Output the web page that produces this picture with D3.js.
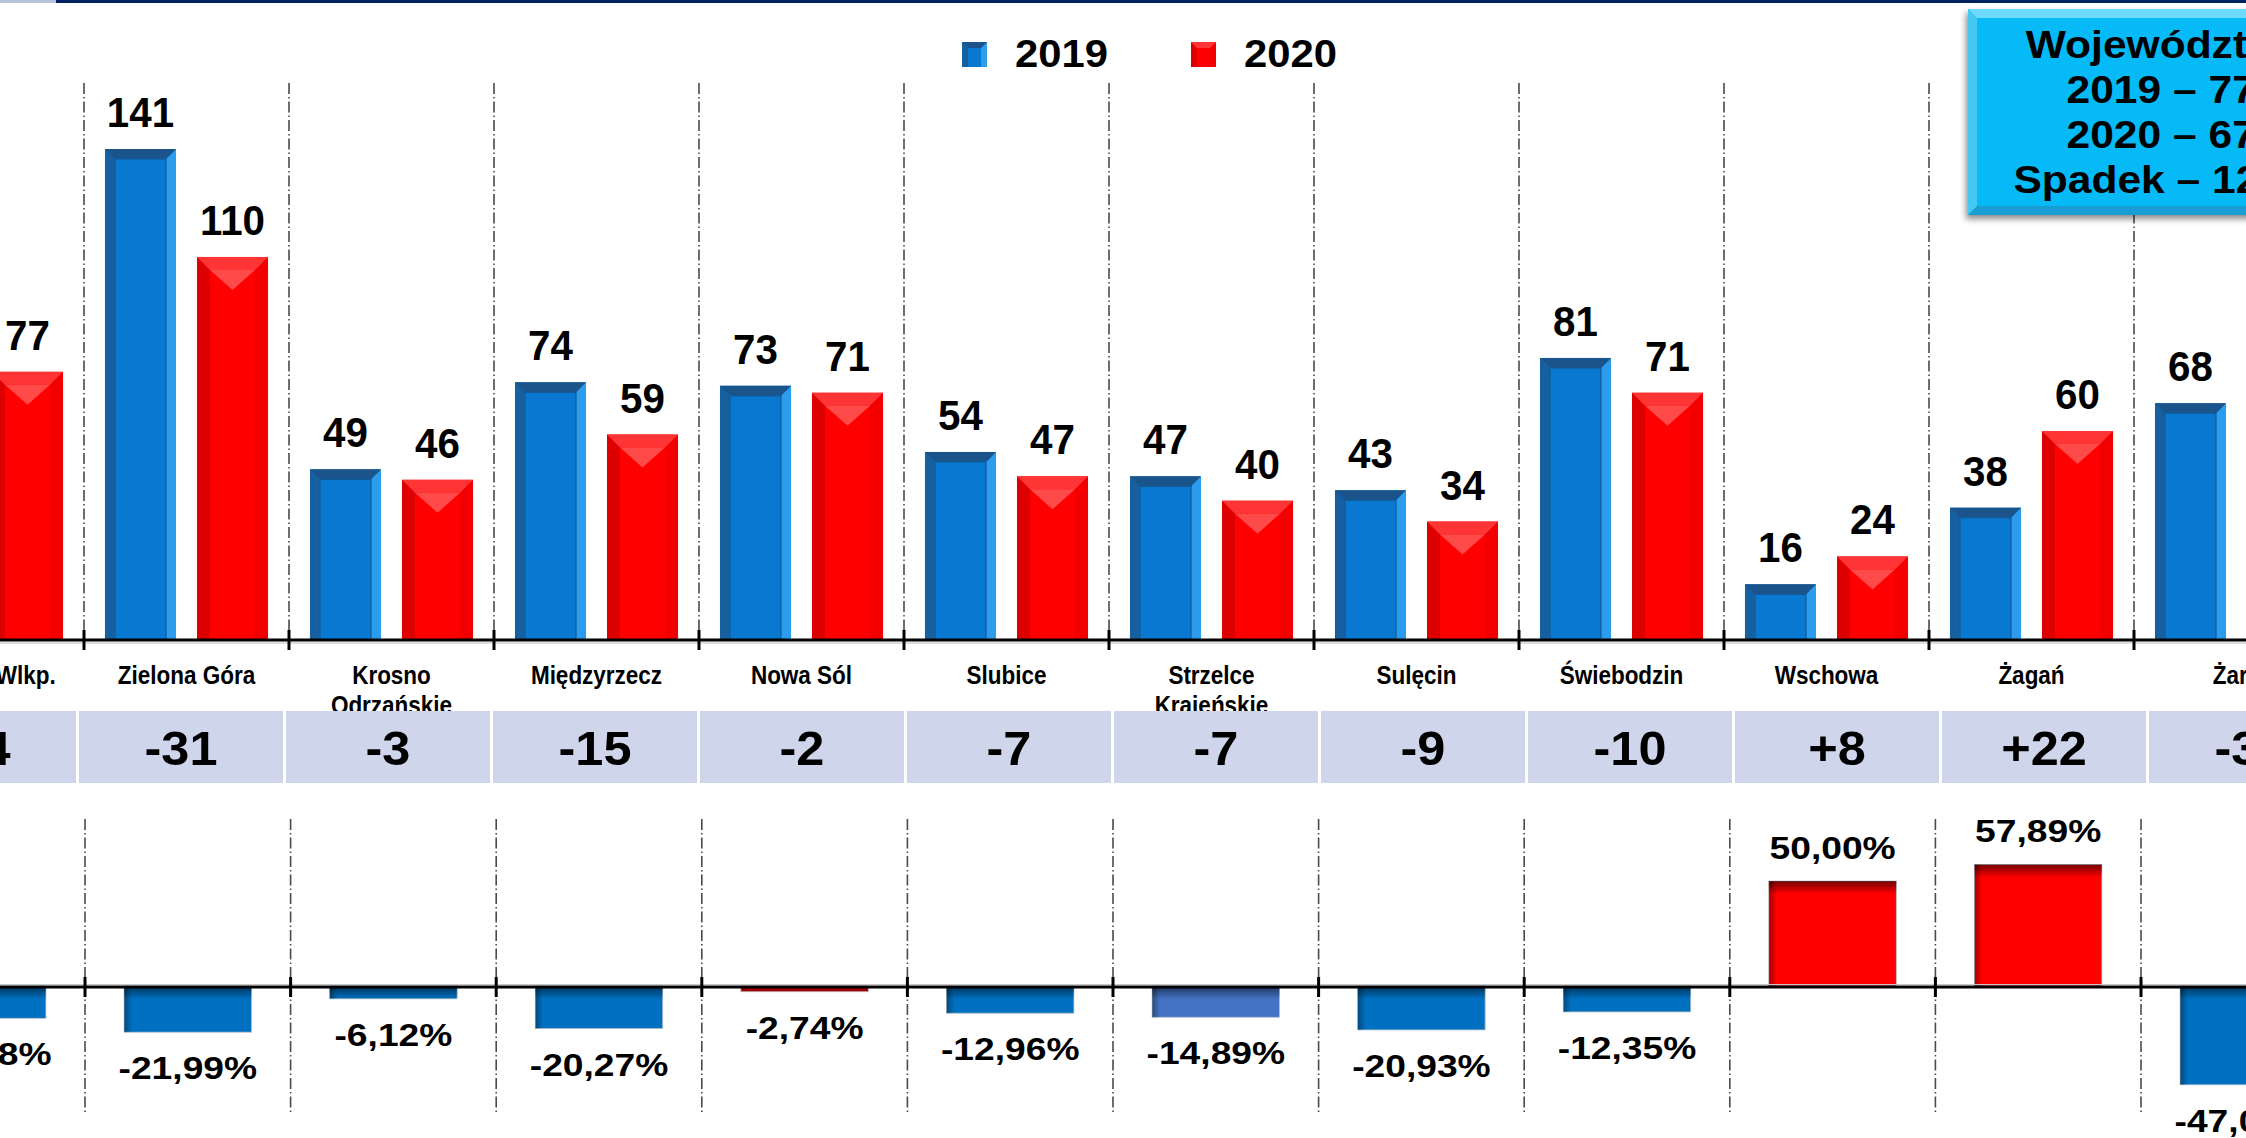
<!DOCTYPE html>
<html>
<head>
<meta charset="utf-8">
<script src="https://cdn.jsdelivr.net/npm/d3@7"></script>
<style>
  html, body { margin: 0; padding: 0; background: #ffffff; overflow: hidden; }
  text { font-family: "Liberation Sans", Arial, sans-serif; font-weight: bold; fill: #000; }
</style>
</head>
<body>
<script>
// data (first and last category are cut by the frame)
var categories = ["Gorzów Wlkp.", "Zielona Góra", "Krosno\nOdrzańskie", "Międzyrzecz", "Nowa Sól", "Slubice",
                  "Strzelce\nKrajeńskie", "Sulęcin", "Świebodzin", "Wschowa", "Żagań", "Żary"];
var years = ["2019", "2020"];
var values2019 = [91, 141, 49, 74, 73, 54, 47, 43, 81, 16, 38, 68];
var values2020 = [77, 110, 46, 59, 71, 47, 40, 34, 71, 24, 60, 36];
var differences = [-14, -31, -3, -15, -2, -7, -7, -9, -10, 8, 22, -32];
var percentChange = [-15.38, -21.99, -6.12, -20.27, -2.74, -12.96, -14.89, -20.93, -12.35, 50.00, 57.89, -47.06];
var summaryLines = ["Województwo:", "2019 – 775", "2020 – 675", "Spadek – 12,9%"];

var W = 2246, H = 1138;

var svg = d3.select("body")
    .append("svg")
    .attr("width", W)
    .attr("height", H);

var defs = svg.append("defs");

// -------------------------------------------------------------------------- //
//                                 HELPERS                                    //
// -------------------------------------------------------------------------- //

function stretchedText(parent, txt, x, y, size, sx, anchor)
{
    return parent.append("text")
        .text(txt)
        .attr("transform", "translate(" + x + "," + y + ") scale(" + sx + ",1)")
        .style("font-size", size + "px")
        .style("text-anchor", anchor || "middle");
}

function poly(parent, pts, fill)
{
    return parent.append("polygon")
        .attr("points", pts.map(function(p) { return p.join(","); }).join(" "))
        .attr("fill", fill);
}

// bar with a bevelled frame, like the office "bevel" shape effect
function bevelBar(parent, x, y, w, h, c)
{
    var b = Math.min(c.b, w / 2, h);
    parent.append("rect").attr("x", x).attr("y", y).attr("width", w).attr("height", h).attr("fill", c.face);
    poly(parent, [[x, y], [x + b, y + b], [x + b, y + h], [x, y + h]], c.left);
    poly(parent, [[x + w, y], [x + w - b, y + b], [x + w - b, y + h], [x + w, y + h]], c.right);
    poly(parent, [[x, y], [x + w, y], [x + w - b, y + b], [x + b, y + b]], c.top);
    if (c.tri) {
        var th = Math.min(20, h - b);
        poly(parent, [[x + b, y + b], [x + w - b, y + b], [x + w / 2, y + b + th]], c.tri);
    }
    if (c.line) {
        parent.append("path")
            .attr("d", "M" + (x + b) + "," + (y + h) + "V" + (y + b) + "H" + (x + w - b) + "V" + (y + h))
            .attr("fill", "none").attr("stroke", c.line).attr("stroke-width", 1.2);
    }
}

var blueBevel = { b: 10, face: "#0978D1", left: "#17609F", right: "#2C9CEC", top: "#1B548A", line: "#155A98" };
var redBevel  = { b: 13, face: "#FF0000", left: "#DC0000", right: "#F20000", top: "#FF3434", tri: "#FF4A4A" };

// -------------------------------------------------------------------------- //
//                              TOP STRIPE                                    //
// -------------------------------------------------------------------------- //

svg.append("rect").attr("x", 0).attr("y", 0).attr("width", W).attr("height", 3).attr("fill", "#002060");
svg.append("rect").attr("x", 0).attr("y", 0).attr("width", 56).attr("height", 3).attr("fill", "#B8C4DE");

// -------------------------------------------------------------------------- //
//                           UPPER CHART: COUNTS                              //
// -------------------------------------------------------------------------- //

var topStep = 205;
var x0 = d3.scaleBand().domain(categories).range([84 - topStep, 84 + topStep * 11]).paddingInner(0).paddingOuter(0);
var x1 = d3.scaleBand().domain(years).range([0, x0.bandwidth()]).padding(0.228);
var y = d3.scaleLinear().domain([0, 141]).range([640, 149]);

var upper = svg.append("g");

// dash-dot separators
categories.forEach(function(c) {
    upper.append("line")
        .attr("x1", x0(c)).attr("x2", x0(c))
        .attr("y1", 83).attr("y2", 640)
        .attr("stroke", "#4a4a4a").attr("stroke-width", 1.6)
        .attr("stroke-dasharray", "11,3,1.5,3");
});

var rows = categories.map(function(c, i) {
    return { cat: c, v: [values2019[i], values2020[i]] };
});

rows.forEach(function(r) {
    years.forEach(function(yr, k) {
        var v = r.v[k];
        var bx = x0(r.cat) + x1(yr);
        bevelBar(upper, bx, y(v), x1.bandwidth(), y(0) - y(v), k === 0 ? blueBevel : redBevel);
        stretchedText(upper, String(v), bx + x1.bandwidth() / 2, y(v) - 22, 42, 0.96);
    });
});

// axis
var xAxisTop = d3.axisBottom(x0).tickSize(0).tickFormat("");
upper.append("g").attr("transform", "translate(0,640)").call(xAxisTop)
    .select(".domain").attr("stroke", "#000").attr("stroke-width", 3.2).attr("d", "M-200,0H" + (W + 200));
upper.append("line").attr("x1", 0).attr("x2", W).attr("y1", 643).attr("y2", 643)
    .attr("stroke", "#bdbdbd").attr("stroke-width", 1);
categories.forEach(function(c) {
    upper.append("line")
        .attr("x1", x0(c)).attr("x2", x0(c)).attr("y1", 630).attr("y2", 650)
        .attr("stroke", "#000").attr("stroke-width", 3);
});

// category labels
categories.forEach(function(c) {
    c.split("\n").forEach(function(line, j) {
        stretchedText(upper, line, x0(c) + topStep / 2, 684 + j * 30, 25, 0.9);
    });
});

// -------------------------------------------------------------------------- //
//                          DIFFERENCE TABLE                                  //
// -------------------------------------------------------------------------- //

var tStep = 207;
var xt = d3.scaleBand().domain(categories).range([77.5 - tStep, 77.5 + tStep * 11]);
var table = svg.append("g");

categories.forEach(function(c, i) {
    table.append("rect")
        .attr("x", xt(c) + 1.5).attr("y", 711)
        .attr("width", xt.bandwidth() - 3).attr("height", 72)
        .attr("fill", "#CFD5EA");
    var d = differences[i];
    stretchedText(table, (d > 0 ? "+" : "") + d, xt(c) + xt.bandwidth() / 2, 765, 49, 1.03);
});

// -------------------------------------------------------------------------- //
//                        LOWER CHART: PERCENT CHANGE                         //
// -------------------------------------------------------------------------- //

var bStep = 205.6;
var xb = d3.scaleBand().domain(categories).range([85 - bStep, 85 + bStep * 11])
    .paddingInner(0.38).paddingOuter(0.19);
var yb = d3.scaleLinear().domain([-50, 60]).range([986 + 105, 986 - 126]);

var low = svg.append("g");

var gBlue = defs.append("linearGradient").attr("id", "shadeTop").attr("x1", "0").attr("x2", "0").attr("y1", "0").attr("y2", "1");
gBlue.append("stop").attr("offset", "0%").attr("stop-color", "#000").attr("stop-opacity", 0.55);
gBlue.append("stop").attr("offset", "100%").attr("stop-color", "#000").attr("stop-opacity", 0);
var gLeft = defs.append("linearGradient").attr("id", "shadeLeft").attr("x1", "0").attr("x2", "1").attr("y1", "0").attr("y2", "0");
gLeft.append("stop").attr("offset", "0%").attr("stop-color", "#000").attr("stop-opacity", 0.35);
gLeft.append("stop").attr("offset", "100%").attr("stop-color", "#000").attr("stop-opacity", 0);

// special bar colours seen in the picture
var pctColorOverride = { "Nowa Sól": "#A00000", "Strzelce\nKrajeńskie": "#4472C4" };

function boundary(c) { return xb(c) - (xb.step() - xb.bandwidth()) / 2; }

categories.forEach(function(c) {
    low.append("line")
        .attr("x1", boundary(c)).attr("x2", boundary(c))
        .attr("y1", 819).attr("y2", 1113)
        .attr("stroke", "#4a4a4a").attr("stroke-width", 1.6)
        .attr("stroke-dasharray", "11,3,1.5,3");
});

categories.forEach(function(c, i) {
    var v = percentChange[i];
    var fill = pctColorOverride[c] || (v < 0 ? "#0070C0" : "#FF0000");
    var top_y = Math.min(yb(v), yb(0));
    var h = Math.abs(yb(v) - yb(0));
    var bx = xb(c), bw = xb.bandwidth();
    low.append("rect").attr("x", bx).attr("y", top_y).attr("width", bw).attr("height", h)
        .attr("fill", fill).attr("stroke", "#b8c2cc").attr("stroke-width", 0.8);
    if (h > 8) {
        low.append("rect").attr("x", bx).attr("y", top_y).attr("width", bw).attr("height", Math.min(13, h))
            .attr("fill", "url(#shadeTop)");
        low.append("rect").attr("x", bx).attr("y", top_y).attr("width", 8).attr("height", h)
            .attr("fill", "url(#shadeLeft)");
    }
    var lbl = v.toFixed(2).replace(".", ",") + "%";
    var ly = v < 0 ? yb(v) + 47 : yb(v) - 22;
    stretchedText(low, lbl, bx + bw / 2, ly, 31, 1.2);
});

var xAxisLow = d3.axisBottom(xb).tickSize(0).tickFormat("");
low.append("g").attr("transform", "translate(0,987)").call(xAxisLow)
    .select(".domain").attr("stroke", "#000").attr("stroke-width", 3.2).attr("d", "M-200,0H" + (W + 200));
low.append("line").attr("x1", 0).attr("x2", W).attr("y1", 984.5).attr("y2", 984.5)
    .attr("stroke", "#c8c8c8").attr("stroke-width", 1);
categories.forEach(function(c) {
    low.append("line")
        .attr("x1", boundary(c)).attr("x2", boundary(c)).attr("y1", 977).attr("y2", 997)
        .attr("stroke", "#000").attr("stroke-width", 3);
});

// -------------------------------------------------------------------------- //
//                                LEGEND                                      //
// -------------------------------------------------------------------------- //

var legend = svg.append("g");
var legendX = [962, 1191];
years.forEach(function(yr, k) {
    bevelBar(legend, legendX[k], 42, 25, 25,
        k === 0 ? { b: 6, face: "#0978D1", left: "#17609F", right: "#2C9CEC", top: "#1B548A" }
                : { b: 6, face: "#FF0000", left: "#DC0000", right: "#F20000", top: "#FF3434" });
    stretchedText(legend, yr, legendX[k] + 53, 67, 38, 1.1, "start");
});

// -------------------------------------------------------------------------- //
//                              SUMMARY BOX                                   //
// -------------------------------------------------------------------------- //

var shadow = defs.append("filter").attr("id", "boxShadow").attr("x", "-10%").attr("y", "-10%").attr("width", "130%").attr("height", "130%");
shadow.append("feDropShadow").attr("dx", -2).attr("dy", 4).attr("stdDeviation", 3).attr("flood-color", "#000").attr("flood-opacity", 0.45);

var box = svg.append("g");
var bx0 = 1968, by0 = 9, bw0 = 330, bh0 = 206, bb = 9;
box.append("rect").attr("x", bx0).attr("y", by0).attr("width", bw0).attr("height", bh0)
    .attr("fill", "#29C3F5").attr("filter", "url(#boxShadow)");
poly(box, [[bx0, by0], [bx0 + bw0, by0], [bx0 + bw0 - bb, by0 + bb], [bx0 + bb, by0 + bb]], "#6FDBFC");
poly(box, [[bx0, by0], [bx0 + bb, by0 + bb], [bx0 + bb, by0 + bh0 - bb], [bx0, by0 + bh0]], "#45C9F3");
poly(box, [[bx0, by0 + bh0], [bx0 + bb, by0 + bh0 - bb], [bx0 + bw0 - bb, by0 + bh0 - bb], [bx0 + bw0, by0 + bh0]], "#1A9DD2");
box.append("rect").attr("x", bx0 + bb).attr("y", by0 + bb).attr("width", bw0 - 2 * bb).attr("height", bh0 - 2 * bb)
    .attr("fill", "#05BAF6");

summaryLines.forEach(function(line, j) {
    stretchedText(box, line, 2173, 58 + j * 45, 38, 1.12);
});
</script>
</body>
</html>
